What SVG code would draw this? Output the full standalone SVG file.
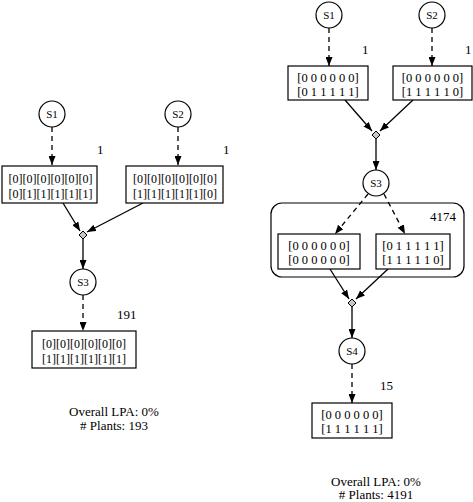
<svg xmlns="http://www.w3.org/2000/svg" width="473" height="502" viewBox="0 0 473 502">
<defs>
<marker id="ah" markerWidth="9" markerHeight="7" refX="9" refY="3.5" orient="auto" markerUnits="userSpaceOnUse">
<path d="M0,0 L9,3.5 L0,7 z" fill="#000"/>
</marker>
<style>
text{font-family:"Liberation Serif","Times New Roman",serif;fill:#000}
.t{font-size:12px;text-anchor:middle}
.r{font-size:12.5px;text-anchor:middle}
.m{font-size:13px;text-anchor:middle}
.n{font-size:13px}
.s{font-size:11px;text-anchor:middle}
.c{fill:#fff;stroke:#000;stroke-width:1.2}
.b{fill:#fff;stroke:#000;stroke-width:1.2}
.d{fill:#c8c8c8;stroke:#000;stroke-width:1}
.e{fill:none;stroke:#000;stroke-width:1.3;marker-end:url(#ah)}
.ds{stroke-dasharray:5,4}
</style>
</defs>
<rect width="473" height="502" fill="#fff"/>

<g id="connectors">
<line class="e ds" x1="52" y1="127" x2="52" y2="165"/>
<line class="e ds" x1="178" y1="127" x2="178" y2="165"/>
<line class="e" x1="63" y1="203" x2="80" y2="231"/>
<line class="e" x1="143" y1="203" x2="87" y2="232"/>
<line class="e" x1="83" y1="239" x2="83" y2="269"/>
<line class="e ds" x1="83" y1="295" x2="83" y2="331"/>
<line class="e ds" x1="329" y1="28" x2="329" y2="66"/>
<line class="e ds" x1="432" y1="28" x2="432" y2="66"/>
<line class="e" x1="345" y1="100" x2="372" y2="131"/>
<line class="e" x1="413" y1="100" x2="380" y2="131"/>
<line class="e" x1="376" y1="139" x2="376" y2="170"/>
<line class="e ds" x1="368" y1="194" x2="335" y2="234"/>
<line class="e ds" x1="384" y1="194" x2="405" y2="234"/>
<line class="e" x1="330" y1="269" x2="349" y2="299"/>
<line class="e" x1="388" y1="269" x2="356" y2="299"/>
<line class="e" x1="352" y1="307" x2="352" y2="338"/>
<line class="e ds" x1="352" y1="364" x2="352" y2="403"/>
</g>

<g id="L_S1"><circle class="c" cx="52" cy="114" r="13"/><text class="s" x="52" y="118">S1</text></g>
<g id="L_S2"><circle class="c" cx="178" cy="114" r="13"/><text class="s" x="178" y="118">S2</text></g>
<g id="L_B1"><rect class="b" x="2" y="166" width="95" height="37"/>
<text class="t" x="50.5" y="183">[0][0][0][0][0][0]</text>
<text class="t" x="50.5" y="197.5">[0][1][1][1][1][1]</text>
<text class="n" x="97" y="154">1</text></g>
<g id="L_B2"><rect class="b" x="126" y="166" width="97" height="37"/>
<text class="t" x="175" y="183">[0][0][0][0][0][0]</text>
<text class="t" x="175" y="197.5">[1][1][1][1][1][0]</text>
<text class="n" x="223" y="154">1</text></g>
<g id="L_J"><path class="d" d="M83,231 L87,235 L83,239 L79,235 z"/></g>
<g id="L_S3"><circle class="c" cx="83" cy="282" r="13"/><text class="s" x="83" y="286">S3</text></g>
<g id="L_B3"><rect class="b" x="32" y="331" width="104" height="37"/>
<text class="t" x="84" y="348">[0][0][0][0][0][0]</text>
<text class="t" x="84" y="362.5">[1][1][1][1][1][1]</text>
<text class="n" x="117" y="319">191</text></g>
<g id="L_sum"><text class="m" x="114" y="416">Overall LPA: 0%</text>
<text class="m" x="114" y="430"># Plants: 193</text></g>

<g id="R_S1"><circle class="c" cx="329" cy="15" r="13"/><text class="s" x="329" y="19">S1</text></g>
<g id="R_S2"><circle class="c" cx="432" cy="15" r="13"/><text class="s" x="432" y="19">S2</text></g>
<g id="R_B1"><rect class="b" x="288" y="66" width="80" height="34"/>
<text class="r" x="328" y="81.5">[0 0 0 0 0 0]</text>
<text class="r" x="328" y="95.5">[0 1 1 1 1 1]</text>
<text class="n" x="362" y="54">1</text></g>
<g id="R_B2"><rect class="b" x="393" y="66" width="79" height="34"/>
<text class="r" x="432.5" y="81.5">[0 0 0 0 0 0]</text>
<text class="r" x="432.5" y="95.5">[1 1 1 1 1 0]</text>
<text class="n" x="465" y="54">1</text></g>
<g id="R_J1"><path class="d" d="M376,131 L380,135 L376,139 L372,135 z"/></g>
<g id="R_S3"><circle class="c" cx="376" cy="183" r="13"/><text class="s" x="376" y="187">S3</text></g>
<g id="R_G"><rect x="271" y="203" width="193" height="74" rx="11" fill="none" stroke="#000" stroke-width="1.2"/>
<text class="n" x="430" y="221">4174</text>
<g id="R_B3"><rect class="b" x="278" y="234" width="82" height="35"/>
<text class="r" x="319" y="250">[0 0 0 0 0 0]</text>
<text class="r" x="319" y="264">[0 0 0 0 0 0]</text></g>
<g id="R_B4"><rect class="b" x="376" y="234" width="74" height="35"/>
<text class="r" x="413" y="250">[0 1 1 1 1 1]</text>
<text class="r" x="413" y="264">[1 1 1 1 1 0]</text></g></g>
<g id="R_J2"><path class="d" d="M352,299 L356,303 L352,307 L348,303 z"/></g>
<g id="R_S4"><circle class="c" cx="352" cy="351" r="13"/><text class="s" x="352" y="355">S4</text></g>
<g id="R_B5"><rect class="b" x="312" y="403" width="80" height="35"/>
<text class="r" x="352" y="418.5">[0 0 0 0 0 0]</text>
<text class="r" x="352" y="432.5">[1 1 1 1 1 1]</text>
<text class="n" x="380" y="390">15</text></g>
<g id="R_sum"><text class="m" x="376" y="485.5">Overall LPA: 0%</text>
<text class="m" x="376" y="499">
# Plants: 4191</text></g>
</svg>
